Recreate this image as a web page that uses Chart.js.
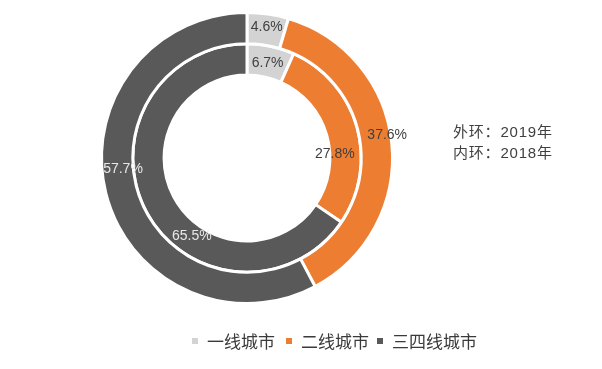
<!DOCTYPE html>
<html>
<head>
<meta charset="utf-8">
<script src="https://cdn.jsdelivr.net/npm/chart.js@4.4.0/dist/chart.umd.min.js"></script>
<style>
  body { margin: 0; background: #fff; }
  #wrap { position: relative; width: 602px; height: 369px; }
  #note { position: absolute; left: 453px; top: 121px; font: 15px "Liberation Sans", "Noto Sans CJK SC", sans-serif; letter-spacing: 0.8px; color: #404040; line-height: 21px; }
  #legend { position: absolute; left: 0; width: 602px; top: 328px; font: 17px "Noto Sans CJK SC", sans-serif; color: #3a3a3a; }
  .item { position: absolute; white-space: nowrap; }
  .sw { display: inline-block; width: 6px; height: 6px; margin-right: 9px; vertical-align: 4px; }
</style>
</head>
<body>
<div id="wrap">
  <canvas id="myChart" width="602" height="369"></canvas>
  <div id="note">外环：2019年<br>内环：2018年</div>
  <div id="legend"></div>
</div>
<script>
const categorias = ['一线城市', '二线城市', '三四线城市'];
const anillos = ['2019', '2018'];
const valores2019 = [4.6, 37.6, 57.7];
const valores2018 = [6.7, 27.8, 65.5];
const colores = ['#d3d3d3', '#ed7d31', '#595959'];
const coloresTexto = ['#404040', '#404040', '#e8e8e8'];

// ajustes finos de etiquetas [dataset][indice] -> [dx, dy]
const ajustes = [
  [[1, -2], [11, -10], [2, -20]],
  [[0, 2], [-7, 23], [32, 32]]
];

const etiquetas = {
  id: 'etiquetas',
  afterDatasetsDraw(chart) {
    const ctx = chart.ctx;
    ctx.save();
    ctx.font = '14px "Liberation Sans", Arial, sans-serif';
    ctx.textAlign = 'center';
    ctx.textBaseline = 'middle';
    chart.data.datasets.forEach((ds, i) => {
      chart.getDatasetMeta(i).data.forEach((arc, j) => {
        const p = arc.tooltipPosition();
        const a = ajustes[i][j];
        ctx.fillStyle = coloresTexto[j];
        ctx.fillText(ds.data[j].toFixed(1) + '%', p.x + a[0], p.y + a[1]);
      });
    });
    ctx.restore();
  }
};

const ctx = document.getElementById('myChart').getContext('2d');
const myChart = new Chart(ctx, {
  type: 'doughnut',
  data: {
    labels: categorias,
    datasets: [
      { label: anillos[0], data: valores2019, backgroundColor: colores, borderColor: '#ffffff', borderWidth: 3, hoverOffset: 0 },
      { label: anillos[1], data: valores2018, backgroundColor: colores, borderColor: '#ffffff', borderWidth: 3, hoverOffset: 0 }
    ]
  },
  options: {
    responsive: false,
    animation: false,
    cutout: '57%',
    layout: { padding: { left: 100, right: 208, top: 11, bottom: 64 } },
    plugins: {
      legend: { display: false },
      tooltip: { enabled: false }
    }
  },
  plugins: [etiquetas]
});

// leyenda
const posLeyenda = [192, 286, 377];
const leyenda = document.getElementById('legend');
categorias.forEach((c, i) => {
  const el = document.createElement('span');
  el.className = 'item';
  el.style.left = posLeyenda[i] + 'px';
  el.innerHTML = '<span class="sw" style="background:' + colores[i] + '"></span>' + c;
  leyenda.appendChild(el);
});
</script>
</body>
</html>
